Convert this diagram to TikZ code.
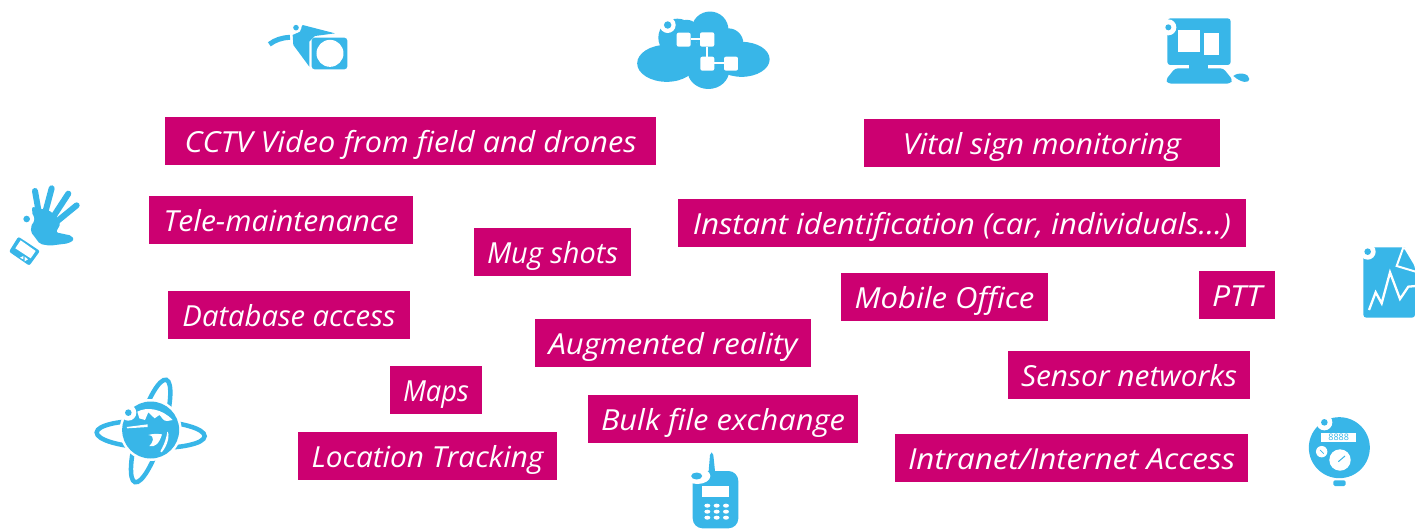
\documentclass[tikz,border=0pt]{standalone}
\usepackage{graphicx}
\usepackage{fontspec}
\setmainfont{Open Sans}[Ligatures=NoCommon]
\definecolor{ic}{HTML}{38B6E8}
\definecolor{pk}{HTML}{CC0071}
\newcommand\fitx[2]{\resizebox{#1pt}{\height}{#2}}
\tikzset{lab/.style={fill=pk,text=white,inner sep=0pt,minimum height=48pt,text height=35pt,text depth=13pt,anchor=center,font=\fontsize{29}{29}\selectfont\itshape}}
\newcommand\ringdot[4]{\fill[white] (#1,#2) circle (#3); \fill[ic] (#1,#2) circle (#4);}
\begin{document}
\begin{tikzpicture}[x=1pt,y=-1pt]
\useasboundingbox (0,0) rectangle (1415,531);
% labels
\node[lab,minimum width=491pt] (cctv) at (410.5,141) {\fitx{452}{CCTV Video from field and drones}};
\node[lab,minimum width=356pt] (vital) at (1042,143) {\fitx{278}{Vital sign monitoring}};
\node[lab,minimum width=264pt] (tele) at (281,220) {\fitx{235}{Tele-maintenance}};
\node[lab,minimum width=568pt] (inst) at (962,223) {\fitx{538}{Instant identification (car, individuals…)}};
\node[lab,minimum width=157pt] (mug) at (552.5,252) {\fitx{131}{Mug shots}};
\node[lab,minimum width=207pt] (mob) at (944.5,297) {\fitx{180}{Mobile Office}};
\node[lab,minimum width=76pt] (ptt) at (1237,295) {\fitx{50}{PTT}};
\node[lab,minimum width=242pt] (db) at (289,315) {\fitx{213}{Database access}};
\node[lab,minimum width=276pt] (aug) at (673,343) {\fitx{249}{Augmented reality}};
\node[lab,minimum width=242pt] (sens) at (1129,375) {\fitx{216}{Sensor networks}};
\node[lab,minimum width=92pt] (maps) at (436,390) {\fitx{66}{Maps}};
\node[lab,minimum width=270pt] (bulk) at (723,419) {\fitx{244}{Bulk file exchange}};
\node[lab,minimum width=259pt] (loc) at (427.5,456) {\fitx{232}{Location Tracking}};
\node[lab,minimum width=353pt] (intra) at (1071.5,458) {\fitx{327}{Intranet/Internet Access}};
% camera
\begin{scope}[shift={(240,0)},x=0.3333pt,y=-0.3333pt]
\draw[ic,line width=5pt] (88,133) .. controls (105,120) and (125,113) .. (150,112);
\fill[ic] (158,105) -- (175,97) -- (188,75) -- (285,100) -- (225,108) -- (208,125) -- (208,200) -- (160,135) -- cycle;
\fill[ic,rounded corners=3pt] (215,113) rectangle (322,208);
\fill[white] (270,160) circle (13.5pt);
\ringdot{168}{83}{5.5pt}{2.8pt}
\end{scope}
% cloud
\begin{scope}[shift={(620,0)},x=0.3333pt,y=-0.3333pt]
\fill[ic] (140,190) ellipse [x radius=29.5pt,y radius=18.5pt];
\fill[ic] (365,178) ellipse [x radius=28pt,y radius=17.5pt];
\fill[ic] (270,90) circle (18.5pt);
\fill[ic] (172,113) circle (19pt);
\fill[ic] (200,100) circle (13.5pt);
\fill[ic] (265,210) ellipse [x radius=21pt,y radius=19pt];
\fill[ic] (325,130) circle (15pt);
\fill[ic] (170,130) rectangle (340,200);
\fill[white,rounded corners=2pt] (170,98) rectangle (212,140);
\fill[white,rounded corners=2pt] (240,97) rectangle (283,140);
\fill[white,rounded corners=2pt] (241,170) rectangle (283,212);
\fill[white,rounded corners=2pt] (312,170) rectangle (354,212);
\draw[white,line width=2pt] (212,118) -- (240,118) (262,140) -- (262,170) (283,190) -- (312,190);
\ringdot{143}{75}{8pt}{3.7pt}
\end{scope}
% computer
\begin{scope}[shift={(1150,5)},x=0.3333pt,y=-0.3333pt]
\fill[ic,rounded corners=3pt] (52,40) rectangle (242,180);
\fill[white] (85,75) rectangle (150,140);
\fill[white] (163,85) rectangle (206,150);
\fill[ic] (118,178) rectangle (175,195);
\fill[ic,rounded corners=3pt] (75,190) -- (220,190) -- (248,225) -- (240,236) -- (55,236) -- (47,225) -- cycle;
\fill[ic] (250,213) .. controls (265,200) and (298,205) .. (298,222) .. controls (298,235) and (275,235) .. (250,213) -- cycle;
\ringdot{55}{67}{8pt}{3pt}
\end{scope}
% hand
\begin{scope}[shift={(0,175)},x=0.3333pt,y=-0.3333pt]
\fill[ic,rounded corners=2pt] (96,95) -- (125,102) -- (148,106) -- (172,128) -- (182,145) -- (168,172) -- (215,182) -- (222,195) -- (205,205) -- (150,212) -- (120,207) -- (92,170) -- (98,130) -- cycle;
\draw[ic,line width=6pt,line cap=round] (105,48) -- (116,110) (155,40) -- (135,115) (205,56) -- (160,125) (230,91) -- (170,140);
\ringdot{80}{132}{7.5pt}{3.3pt}
\fill[ic,rounded corners=2pt] (55,185) -- (120,228) -- (88,272) -- (27,230) -- cycle;
\fill[white] (62,196) -- (107,228) -- (92,250) -- (46,220) -- cycle;
\fill[white] (60,248) -- (70,243) -- (70,253) -- cycle;
\fill[white] (74,245) -- (84,253) -- (74,259) -- cycle;
\end{scope}
% globe
\begin{scope}[shift={(80,365)},x=0.3333pt,y=-0.3333pt]
\draw[ic,line width=4.5pt] (212,208) ellipse [x radius=54pt,y radius=13.5pt,rotate=-2];
\draw[ic,line width=4.5pt] (212,198) ellipse [x radius=53.5pt,y radius=12.5pt,rotate=73];
\fill[white] (212,195) circle (31pt);
\fill[ic] (212,195) circle (28.5pt);
\fill[white] (172,140) .. controls (200,125) and (245,130) .. (278,165) -- (262,168) .. controls (250,170) and (245,155) .. (238,150) -- (224,160) -- (205,142) -- (195,165) -- (178,160) -- cycle;
\fill[white] (140,186) -- (203,178) -- (203,186) -- (142,190) -- cycle;
\fill[white] (205,210) .. controls (228,212) and (218,235) .. (208,243) .. controls (225,248) and (238,235) .. (246,208) .. controls (230,206) and (218,206) .. (205,210) -- cycle;
\fill[white] (262,200) .. controls (270,205) and (265,240) .. (245,262) -- (241,259) .. controls (255,235) and (260,215) .. (262,200) -- cycle;
\ringdot{145}{143}{8pt}{3.3pt}
\end{scope}
% phone
\begin{scope}[shift={(670,445)},x=0.3333pt,y=-0.3333pt]
\fill[ic] (116,78) -- (120,30) -- (125,22) -- (130,30) -- (135,78) -- cycle;
\fill[ic,rounded corners=10pt] (68,78) rectangle (205,250);
\fill[white] (97,123) rectangle (178,157);
\foreach \yy in {182,200,218} \foreach \xx in {112,140,168} \fill[white] (\xx,\yy) ellipse [x radius=3pt,y radius=2pt];
\fill[white] (82,93) ellipse [x radius=13pt,y radius=8pt];
\fill[ic] (80,93) ellipse [x radius=5.5pt,y radius=3.5pt];
\end{scope}
% meter
\begin{scope}[shift={(1290,405)},x=0.3333pt,y=-0.3333pt]
\fill[ic] (148,128) circle (30.5pt);
\fill[white] (93,85) rectangle (197,111);
\node[text=ic,inner sep=0pt,font=\fontsize{9}{9}\selectfont] (mt) at (146,98) {8888};
\fill[white] (95,140) circle (5.7pt);
\fill[white] (150,165) circle (10.7pt);
\draw[ic,line width=0.7pt] (90,135) -- (101,146);
\draw[ic,line width=1pt] (145,170) -- (165,153);
\fill[ic,rounded corners=1.5pt] (130,226) rectangle (167,243);
\ringdot{103}{52}{8pt}{3.3pt}
\end{scope}
% document
\begin{scope}[shift={(1345,235)},x=0.3333pt,y=-0.3333pt]
\fill[ic,rounded corners=3pt] (55,37) -- (172,37) -- (175,37) -- (210,95) -- (210,248) -- (55,248) -- cycle;
\draw[white,line width=2pt] (175,37) -- (155,93) -- (212,110);
\draw[white,line width=2.3pt] (72,225) -- (92,172) -- (110,205) -- (135,112) -- (165,192) -- (190,155) -- (212,153);
\ringdot{68}{50}{8pt}{3.3pt}
\end{scope}
\end{tikzpicture}
\end{document}
